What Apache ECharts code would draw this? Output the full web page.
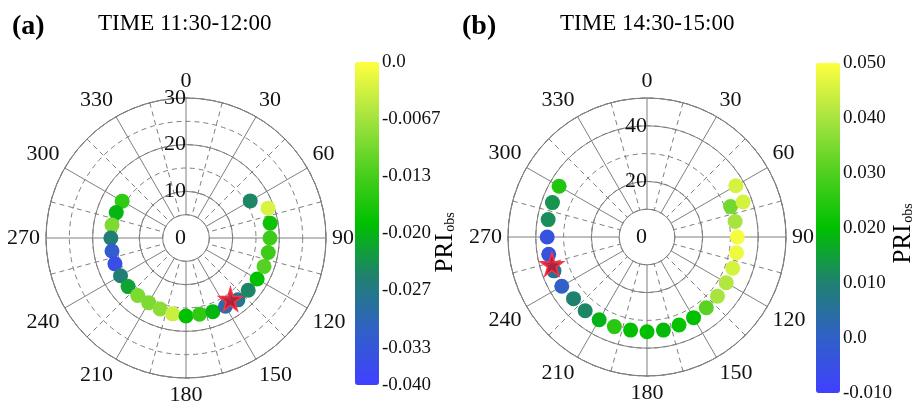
<!DOCTYPE html>
<html>
<head>
<meta charset="utf-8">
<script src="https://cdn.jsdelivr.net/npm/echarts@6/dist/echarts.min.js"></script>
<style>
  html, body { margin: 0; padding: 0; background: #fff; }
  #chart { width: 917px; height: 403px; }
</style>
</head>
<body>
<div id="chart"></div>
<script>
// angle tick labels (degrees, clockwise from north)
const angleLabels = ['0', '30', '60', '90', '120', '150', '180', '210', '240', '270', '300', '330']

// panel (a) 11:30-12:00
const anglesA = [300, 290, 280, 270, 260, 250, 240, 230, 220, 210, 200, 190, 180, 170, 160, 150, 140, 130, 120, 110, 100, 90, 80, 70, 60]
const radiiA = [15.8, 15.9, 16.1, 16.1, 16.1, 16.2, 16.2, 16.2, 16.1, 16.0, 16.2, 16.5, 16.7, 16.6, 16.8, 16.9, 17.3, 17.4, 17.6, 17.8, 17.9, 18.0, 18.3, 18.7, 15.9]
const priA = [-0.016, -0.021, -0.010, -0.027, -0.034, -0.037, -0.027, -0.023, -0.010, -0.010, -0.009, -0.004, -0.020, -0.016, -0.021, -0.031, -0.029, -0.026, -0.020, -0.013, -0.015, -0.015, -0.019, -0.003, -0.026]
const starA = [[16.2, 144]]
const barLabelsA = ['0.0', '-0.0067', '-0.013', '-0.020', '-0.027', '-0.033', '-0.040']

// panel (b) 14:30-15:00
const anglesB = [300, 290, 280, 270, 260, 250, 240, 230, 220, 210, 200, 190, 180, 170, 160, 150, 140, 130, 120, 110, 100, 90, 80, 70, 70, 60]
const radiiB = [36.5, 36.2, 36.1, 35.9, 35.9, 35.6, 35.4, 34.5, 34.6, 34.4, 34.3, 34.0, 34.1, 34.0, 33.7, 33.5, 33.2, 33.1, 32.9, 32.8, 32.7, 32.5, 32.2, 32.0, 36.8, 36.9]
const priB = [0.024, 0.013, 0.012, -0.004, -0.004, 0.006, 0.000, 0.010, 0.011, 0.018, 0.025, 0.020, 0.020, 0.019, 0.021, 0.020, 0.031, 0.040, 0.041, 0.045, 0.048, 0.049, 0.040, 0.034, 0.045, 0.045]
const starB = [[35.6, 254]]
const barLabelsB = ['-0.010', '0.0', '0.010', '0.020', '0.030', '0.040', '0.050']

const palette = ['#4040ff', '#3060c8', '#208070', '#00c000', '#50d020', '#a8e440', '#ffff40']
const gridColor = '#7f7f7f'
const dash = [5, 4]
const serif = 'Liberation Serif'
const starPath = 'path://M50,0 L61,35 L98,35 L68,57 L79,91 L50,70 L21,91 L32,57 L2,35 L39,35 Z'

const makeData = (angles, radii, pri) => angles.map((a, i) => [radii[i], a, pri[i]])

const gridAngle = (polarIndex) => ({
  polarIndex,
  type: 'value',
  min: 0,
  max: 360,
  interval: 30,
  startAngle: 90,
  clockwise: true,
  axisLine: { lineStyle: { color: gridColor, width: 1 } },
  axisTick: { show: false },
  axisLabel: {
    margin: 6,
    fontSize: 22,
    fontFamily: serif,
    color: '#111',
    formatter: (v) => (v >= 360 ? '' : angleLabels[Math.round(v / 30)])
  },
  splitLine: { show: true, lineStyle: { color: gridColor, width: 1 } },
  minorTick: { show: false, splitNumber: 2 },
  minorSplitLine: { show: true, lineStyle: { color: gridColor, width: 1, type: dash } }
})

const hiddenAngle = (polarIndex) => ({
  polarIndex, type: 'value', min: 0, max: 360, startAngle: 90, clockwise: true, show: false
})

const dashedRadius = (polarIndex, min, max, interval) => ({
  polarIndex, type: 'value', min, max, interval,
  axisLine: { show: false }, axisTick: { show: false }, axisLabel: { show: false },
  splitLine: { show: true, lineStyle: { color: gridColor, width: 1, type: dash } }
})

const solidRadius = (polarIndex, min, max, interval) => ({
  polarIndex, type: 'value', min, max, interval,
  axisLine: { show: false }, axisTick: { show: false },
  axisLabel: {
    margin: 0, fontSize: 22, fontFamily: serif, color: '#111',
    formatter: (v) => (v === max && max % interval !== 0 ? '' : String(v))
  },
  splitLine: { show: true, lineStyle: { color: gridColor, width: 1 } }
})

const barAxisLabel = (labels) => ({
  margin: 3, fontSize: 19, fontFamily: serif, color: '#111',
  formatter: (v, i) => labels[i]
})

const dotStyle = { opacity: 1 }
const starStyle = { color: 'rgba(190,25,50,0.9)', borderColor: '#ff3344', borderWidth: 1.5, opacity: 1 }

const option = {
  backgroundColor: '#fff',
  textStyle: { fontFamily: serif },
  title: [
    { text: '(a)', left: 12, top: 13, padding: 0, textStyle: { fontSize: 28, fontWeight: 'bold', fontFamily: serif, color: '#000' } },
    { text: 'TIME 11:30-12:00', left: 98, top: 12, padding: 0, textStyle: { fontSize: 23, fontWeight: 'normal', fontFamily: serif, color: '#000' } },
    { text: '(b)', left: 462, top: 13, padding: 0, textStyle: { fontSize: 28, fontWeight: 'bold', fontFamily: serif, color: '#000' } },
    { text: 'TIME 14:30-15:00', left: 560, top: 12, padding: 0, textStyle: { fontSize: 23, fontWeight: 'normal', fontFamily: serif, color: '#000' } }
  ],
  polar: [
    { center: [186, 238], radius: [23.3, 140] },
    { center: [186, 238], radius: [0, 140] },
    { center: [647, 237], radius: [27.8, 139] },
    { center: [647, 237], radius: [0, 139] }
  ],
  angleAxis: [gridAngle(0), hiddenAngle(1), gridAngle(2), hiddenAngle(3)],
  radiusAxis: [
    dashedRadius(0, 5, 30, 5),
    solidRadius(1, 0, 30, 10),
    dashedRadius(2, 10, 50, 10),
    solidRadius(3, 0, 50, 20)
  ],
  grid: [
    { left: 355, top: 62, width: 24, height: 323 },
    { left: 816, top: 63, width: 24, height: 330 }
  ],
  xAxis: [
    { gridIndex: 0, type: 'value', min: 0, max: 1, show: false },
    { gridIndex: 1, type: 'value', min: 0, max: 1, show: false }
  ],
  yAxis: [
    {
      gridIndex: 0, type: 'value', position: 'right', inverse: true,
      min: 0, max: 0.0377, interval: 0.04 / 6,
      axisLine: { show: false }, axisTick: { show: false }, splitLine: { show: false },
      axisLabel: barAxisLabel(barLabelsA)
    },
    {
      gridIndex: 1, type: 'value', position: 'right',
      min: -0.01, max: 0.05, interval: 0.01,
      axisLine: { show: false }, axisTick: { show: false }, splitLine: { show: false },
      axisLabel: barAxisLabel(barLabelsB)
    }
  ],
  visualMap: [
    {
      type: 'continuous', seriesIndex: [0], dimension: 2, min: -0.04, max: 0,
      calculable: false, left: 355, top: 62, padding: 0, itemWidth: 24, itemHeight: 323,
      inRange: { color: palette }
    },
    {
      type: 'continuous', seriesIndex: [2], dimension: 2, min: -0.01, max: 0.05,
      calculable: false, left: 816, top: 63, padding: 0, itemWidth: 24, itemHeight: 330,
      inRange: { color: palette }
    }
  ],
  graphic: [
    { type: 'text', x: 445, y: 253, rotation: Math.PI / 2, style: { text: 'PRI', font: '25px "Liberation Serif"', fill: '#000', align: 'center', verticalAlign: 'middle' } },
    { type: 'text', x: 450, y: 222, rotation: Math.PI / 2, style: { text: 'obs', font: '14px "Liberation Serif"', fill: '#000', align: 'center', verticalAlign: 'middle' } },
    { type: 'text', x: 903, y: 244, rotation: Math.PI / 2, style: { text: 'PRI', font: '25px "Liberation Serif"', fill: '#000', align: 'center', verticalAlign: 'middle' } },
    { type: 'text', x: 908, y: 213, rotation: Math.PI / 2, style: { text: 'obs', font: '14px "Liberation Serif"', fill: '#000', align: 'center', verticalAlign: 'middle' } }
  ],
  series: [
    {
      type: 'scatter', coordinateSystem: 'polar', polarIndex: 1, symbolSize: 15,
      itemStyle: dotStyle, data: makeData(anglesA, radiiA, priA), z: 3
    },
    {
      type: 'scatter', coordinateSystem: 'polar', polarIndex: 1, symbol: starPath, symbolSize: 23,
      itemStyle: starStyle, data: starA, z: 4
    },
    {
      type: 'scatter', coordinateSystem: 'polar', polarIndex: 3, symbolSize: 15,
      itemStyle: dotStyle, data: makeData(anglesB, radiiB, priB), z: 3
    },
    {
      type: 'scatter', coordinateSystem: 'polar', polarIndex: 3, symbol: starPath, symbolSize: 23,
      itemStyle: starStyle, data: starB, z: 4
    }
  ]
}

const chart = echarts.init(document.getElementById('chart'))
chart.setOption(option)
</script>
</body>
</html>
